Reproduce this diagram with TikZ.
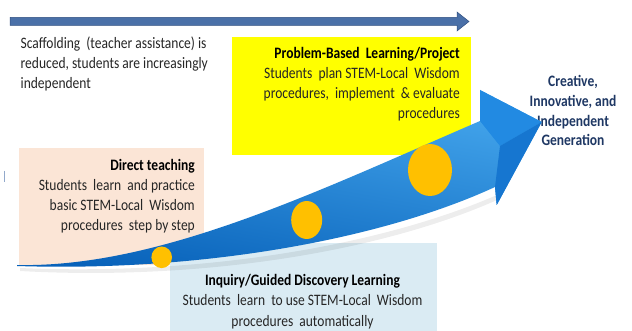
\documentclass[tikz,border=0pt]{standalone}
\usepackage{fontspec}
\setmainfont{Carlito}
\usetikzlibrary{shapes.geometric}

\definecolor{barblue}{RGB}{74,112,168}
\definecolor{bardark}{RGB}{47,79,128}
\definecolor{peach}{RGB}{251,229,214}
\definecolor{paleblue}{RGB}{218,235,243}
\definecolor{sunyellow}{RGB}{255,255,0}
\definecolor{dotgold}{RGB}{255,192,0}
\definecolor{arrowlight}{RGB}{70,168,238}
\definecolor{arrowmid}{RGB}{28,132,222}
\definecolor{arrowdark}{RGB}{8,98,186}
\definecolor{headtop}{RGB}{34,138,226}
\definecolor{headlow}{RGB}{22,118,208}
\definecolor{navy}{RGB}{31,56,100}
\definecolor{bodytext}{RGB}{38,38,38}

\begin{document}
\begin{tikzpicture}[x=1pt,y=-1pt,
  txt/.style={inner sep=0pt, yscale=1.18, font=\fontsize{13.5}{16.95}\selectfont, text=bodytext},
  panel/.style={inner sep=0pt, anchor=north west, draw=none},
  dot/.style={ellipse, fill=dotgold, inner sep=0pt, draw=none},
  bigarrow/.style={top color=arrowlight, middle color=arrowmid, bottom color=arrowdark, shading angle=-10},
]
\useasboundingbox (0,0) rectangle (632,331);
\fill[white] (0,0) rectangle (632,331);

% progress bar across the top
\filldraw[fill=barblue, draw=bardark, line width=0.5pt]
  (10,17.5) -- (457,17.5) -- (457,12) -- (469,21.5) -- (457,31) -- (457,25.5) -- (10,25.5) -- cycle;

% small mark at the left edge
\draw[barblue!60, line width=0.8pt] (4,171) -- (4,182);

% coloured panels
\node[panel, fill=sunyellow, minimum width=239pt, minimum height=118pt] (pblbox) at (232,37) {};
\node[panel, fill=peach, minimum width=185pt, minimum height=117pt] (dtbox) at (19,148) {};
\node[panel, fill=paleblue, minimum width=267pt, minimum height=88pt] (igdbox) at (170,243) {};

% texts (each anchored at the baseline of its last line)
\node[txt, anchor=base west, align=left] (scaff) at (20.5,89)
  {Scaffolding\ \ (teacher assistance) is\\reduced, students are increasingly\\independent};
\node[txt, anchor=base east, align=right] (pbl) at (460,118.5)
  {\textbf{\color{black}Problem-Based\ \ Learning/Project}\\Students\ \ plan STEM-Local\ \ Wisdom\\procedures,\ \ implement\ \ \&\ evaluate\\procedures};
\node[txt, anchor=base east, align=right] (dt) at (195,230.5)
  {\textbf{\color{black}Direct teaching}\\Students\ \ learn\ \ and practice\\basic STEM-Local\ \ Wisdom\\procedures\ \ step by step};
\node[txt, anchor=base, align=center] (igd) at (302.5,326)
  {\textbf{\color{black}Inquiry/Guided Discovery Learning}\\Students\ \ learn\ \ to use STEM-Local\ \ Wisdom\\procedures\ \ automatically};
\node[txt, anchor=base, align=center, text=navy, font=\fontsize{13.5}{16.7}\selectfont\bfseries] (goal) at (573,146)
  {Creative,\\Innovative, and\\Independent\\Generation};

% soft shadow beneath the rising arrow
\fill[black, opacity=0.07]
  (20,268) .. controls (200,276) and (380,246) .. (497,195) -- (497,200)
  .. controls (380,252) and (200,281) .. (20,271) -- cycle;

% rising arrow
\shade[bigarrow]
  (17,265) .. controls (160,268) and (320,190) .. (480,121)
  -- (480,90) -- (541.7,122) -- (496.7,205) -- (495,187)
  .. controls (380,240) and (200,272) .. (17,266) -- cycle;
% bevelled facets of the arrow head
\fill[headtop] (480,90) -- (541.7,122) -- (500,146) -- (480,121) -- cycle;
\fill[headlow] (500,146) -- (541.7,122) -- (496.7,205) -- (495,187) -- cycle;

% stages along the arrow
\node[dot, minimum width=20.6pt, minimum height=21.6pt] (s1) at (161.7,257.3) {};
\node[dot, minimum width=31pt, minimum height=38pt] (s2) at (306.7,220) {};
\node[dot, minimum width=44pt, minimum height=52pt] (s3) at (430,170) {};
\end{tikzpicture}
\end{document}
